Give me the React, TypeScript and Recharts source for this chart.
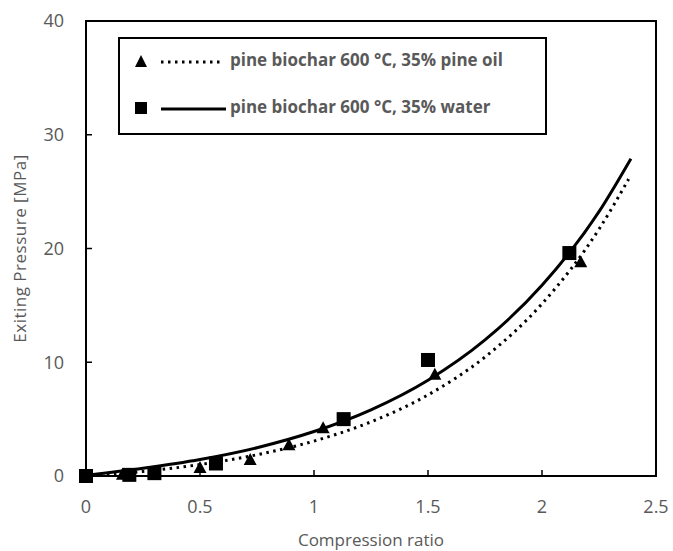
import React from "react";
import {
  ComposedChart,
  Line,
  Scatter,
  XAxis,
  YAxis,
  ReferenceArea,
} from "recharts";

// measured points
const waterX = [0, 0.19, 0.3, 0.57, 1.13, 1.5, 2.12];
const waterY = [0, 0.1, 0.25, 1.1, 5.0, 10.2, 19.6];
const oilX = [0, 0.16, 0.3, 0.5, 0.72, 0.89, 1.04, 1.53, 2.17];
const oilY = [0, 0.1, 0.2, 0.7, 1.4, 2.7, 4.2, 8.9, 18.8];

// trend curves
const waterCurveX = [0, 0.25, 0.5, 0.75, 1, 1.25, 1.5, 1.75, 2, 2.25, 2.39];
const waterCurveY = [0.05, 0.68, 1.45, 2.49, 3.91, 5.82, 8.42, 11.96, 16.76, 23.24, 27.9];
const oilCurveX = [0, 0.25, 0.5, 0.75, 1, 1.25, 1.5, 1.75, 2, 2.25, 2.38];
const oilCurveY = [0, 0.4, 1.01, 1.87, 3.07, 4.76, 7.13, 10.46, 15.14, 21.7, 26.1];

const xTicks = [0, 0.5, 1, 1.5, 2, 2.5];
const yTicks = [0, 10, 20, 30, 40];

const seriesNames = [
  "pine biochar 600 °C, 35% pine oil",
  "pine biochar 600 °C, 35% water",
];

const zip = (xs: number[], ys: number[]) => xs.map((x, i) => ({ x, y: ys[i] }));

const water = zip(waterX, waterY);
const oil = zip(oilX, oilY);
const waterCurve = zip(waterCurveX, waterCurveY);
const oilCurve = zip(oilCurveX, oilCurveY);

const GRAY = "#595959";
const FONT = "'Open Sans', sans-serif";

const Triangle = (p: any) => {
  const { cx, cy } = p;
  return <polygon points={`${cx},${cy - 7} ${cx - 6.5},${cy + 5} ${cx + 6.5},${cy + 5}`} fill="#000" />;
};

const Square = (p: any) => {
  const { cx, cy } = p;
  return <rect x={cx - 7} y={cy - 7} width={14} height={14} fill="#000" />;
};

// legend box drawn over the plot, like the original
const LegendBox = () => (
  <div
    style={{
      position: "absolute",
      left: 118,
      top: 37,
      boxSizing: "border-box",
      border: "2px solid #000",
      width: 429,
      height: 98,
      background: "#fff",
      fontFamily: FONT,
      fontWeight: 700,
      fontSize: 17,
      color: GRAY,
    }}
  >
    <svg width={112} height={94} style={{ position: "absolute", left: 0, top: 0 }}>
      <polygon points="21,16 15,28 27,28" fill="#000" />
      <line x1={41} y1={23} x2={103} y2={23} stroke="#000" strokeWidth={3} strokeDasharray="2.5 4.5" />
      <rect x={15} y={63} width={12} height={12} fill="#000" />
      <line x1={41} y1={70} x2={106} y2={70} stroke="#000" strokeWidth={3} />
    </svg>
    <div style={{ position: "absolute", left: 110, top: 9, whiteSpace: "nowrap" }}>{seriesNames[0]}</div>
    <div style={{ position: "absolute", left: 110, top: 56, whiteSpace: "nowrap" }}>{seriesNames[1]}</div>
  </div>
);

export default function App() {
  return (
    <div style={{ position: "absolute", left: 0, top: 0, width: 673, height: 551, background: "#fff" }}>
      <ComposedChart width={673} height={551} margin={{ top: 21, right: 17, left: 0, bottom: 0 }}>
        <XAxis
          type="number"
          dataKey="x"
          domain={[0, 2.5]}
          ticks={xTicks}
          height={75}
          axisLine={{ stroke: "#000", strokeWidth: 2 }}
          tickLine={{ stroke: "#000", strokeWidth: 1.5 }}
          tickSize={-6}
          tickMargin={30}
          tick={{ fill: GRAY, fontSize: 18, fontFamily: FONT }}
          label={{
            value: "Compression ratio",
            position: "insideBottom",
            offset: 5,
            style: { fill: GRAY, fontSize: 17, fontFamily: FONT },
          }}
        />
        <YAxis
          type="number"
          dataKey="y"
          domain={[0, 40]}
          ticks={yTicks}
          width={86}
          axisLine={{ stroke: "#000", strokeWidth: 2 }}
          tickLine={{ stroke: "#000", strokeWidth: 1.5 }}
          tickSize={-6}
          tickMargin={28}
          tick={{ fill: GRAY, fontSize: 18, fontFamily: FONT }}
          label={{
            value: "Exiting Pressure [MPa]",
            angle: -90,
            position: "insideLeft",
            offset: 20,
            style: { fill: GRAY, fontSize: 17, fontFamily: FONT, textAnchor: "middle", letterSpacing: 0.5 },
          }}
        />
        <ReferenceArea x1={0} x2={2.5} y1={0} y2={40} fill="none" stroke="#000" strokeWidth={2} ifOverflow="visible" />
        <Line
          data={oilCurve}
          dataKey="y"
          type="monotone"
          stroke="#000"
          strokeWidth={3}
          strokeDasharray="2.5 4.5"
          dot={false}
          activeDot={false}
          isAnimationActive={false}
        />
        <Line
          data={waterCurve}
          dataKey="y"
          type="monotone"
          stroke="#000"
          strokeWidth={3}
          dot={false}
          activeDot={false}
          isAnimationActive={false}
        />
        <Scatter data={oil} dataKey="y" shape={Triangle} isAnimationActive={false} name={seriesNames[0]} />
        <Scatter data={water} dataKey="y" shape={Square} isAnimationActive={false} name={seriesNames[1]} />
      </ComposedChart>
      <LegendBox />
    </div>
  );
}
